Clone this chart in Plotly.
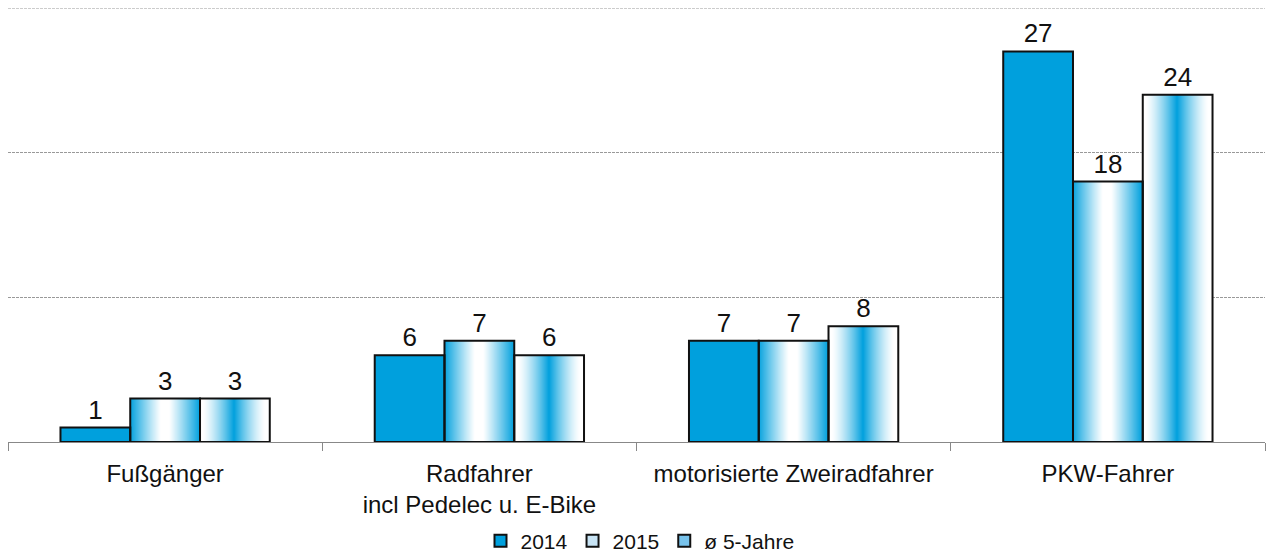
import plotly.graph_objects as go

categories = ["Fußgänger", "Radfahrer<br>incl Pedelec u. E-Bike",
              "motorisierte Zweiradfahrer", "PKW-Fahrer"]
series_names = ["2014", "2015", "ø 5-Jahre"]
values_2014 = [1, 6, 7, 27]
values_2015 = [3, 7, 7, 18]
values_avg5 = [3, 6, 8, 24]
y_max = 30

BLUE = (0, 160, 221)
WHITE = (255, 255, 255)
BAR_W = 0.222
N_SLICES = 70
FONT = "Liberation Sans, Arial, sans-serif"


def mix(a, b, t):
    return "rgb(%d,%d,%d)" % tuple(round(a[i] + (b[i] - a[i]) * t) for i in range(3))


def edge_blue(u):
    # blue at both edges, white in the middle
    d = abs(u - 0.5) * 2
    t = max(0.0, (d - 0.12) / 0.88)
    return mix(WHITE, BLUE, t ** 1.1)


def centre_blue(u):
    # white at both edges, blue in the middle
    d = abs(u - 0.5) * 2
    t = max(0.0, 1 - d / 0.9)
    return mix(WHITE, BLUE, t ** 1.4)


fig = go.Figure()

offsets = [-1.5 * BAR_W, -0.5 * BAR_W, 0.5 * BAR_W]
series = [values_2014, values_2015, values_avg5]
shaders = [None, edge_blue, centre_blue]

for name, vals, off, shade in zip(series_names, series, offsets, shaders):
    if shade is None:
        fig.add_trace(go.Bar(x=categories, y=vals, width=BAR_W, offset=off,
                             marker=dict(color="rgb(0,160,221)", line=dict(width=0)),
                             showlegend=False, hoverinfo="skip"))
    else:
        sw = BAR_W / N_SLICES
        for k in range(N_SLICES):
            u = (k + 0.5) / N_SLICES
            fig.add_trace(go.Bar(x=categories, y=vals, width=sw * 1.6, offset=off + k * sw,
                                 marker=dict(color=shade(u), line=dict(width=0)),
                                 showlegend=False, hoverinfo="skip"))

# outlines and value labels
for name, vals, off in zip(series_names, series, offsets):
    fig.add_trace(go.Bar(x=categories, y=vals, width=BAR_W, offset=off,
                         marker=dict(color="rgba(0,0,0,0)", line=dict(color="#111", width=2)),
                         text=[str(v) for v in vals], textposition="outside",
                         textfont=dict(size=26, color="#111", family=FONT),
                         cliponaxis=False, showlegend=False, name=name))

# legend entries
legend_fill = ["rgb(0,160,221)", "rgb(200,228,245)", "rgb(120,195,236)"]
for name, col in zip(series_names, legend_fill):
    fig.add_trace(go.Bar(x=[categories[0]], y=[None], name=name,
                         marker=dict(color=col, line=dict(color="#111", width=2))))

# top gridline at the edge of the value range
fig.add_shape(type="line", xref="paper", x0=0, x1=1, yref="y", y0=y_max, y1=y_max,
              line=dict(color="#999", width=1, dash="3px,1px"), layer="below")

fig.update_layout(
    width=1280, height=556,
    margin=dict(l=8, r=15, t=8, b=114),
    barmode="overlay",
    plot_bgcolor="white", paper_bgcolor="white",
    font=dict(family=FONT, size=24, color="#111"),
    legend=dict(orientation="h", x=0.5, xanchor="center", xref="container",
                y=0.027, yanchor="middle", yref="container",
                font=dict(size=21), itemwidth=30, traceorder="normal",
                tracegroupgap=0),
    xaxis=dict(type="category", showline=True, linecolor="#888", linewidth=1,
               ticks="outside", tickson="boundaries", ticklen=8, tickcolor="#888",
               showgrid=False, tickfont=dict(size=24), automargin=False,
               ticklabelstandoff=10),
    yaxis=dict(range=[0, y_max], tickmode="array", tickvals=[10, 20], showticklabels=False,
               showgrid=True, gridcolor="#999", griddash="3px,1px", gridwidth=1,
               zeroline=False, showline=False, automargin=False),
)

fig.write_html("out.html")
